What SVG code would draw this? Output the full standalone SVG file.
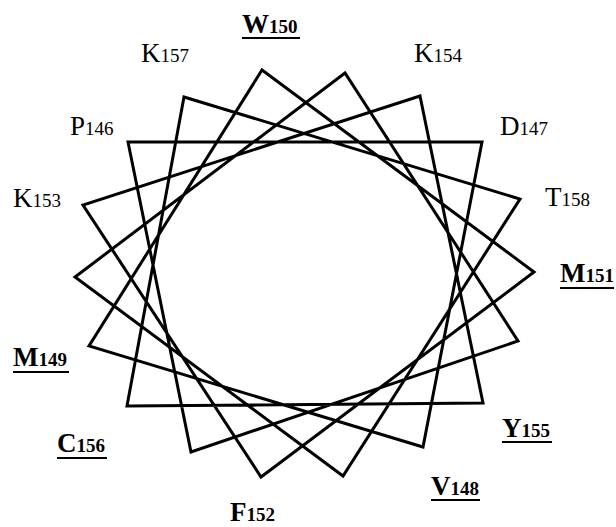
<svg xmlns="http://www.w3.org/2000/svg" width="616" height="527" viewBox="0 0 616 527">
<style>
text{font-family:"Liberation Serif","Times New Roman",serif;font-size:27px;fill:#000}
.b{font-weight:bold}
.s{font-size:19px}
.u{stroke:#000;stroke-width:2}
.wheel{fill:none;stroke:#000;stroke-width:3;stroke-linejoin:miter}
</style>
<rect width="616" height="527" fill="#fff"/>
<g id="connectors">
<polygon class="wheel" points="262,70 534,272 261,477 83,205 420,96 483,403 127,406 184,97 520,199 343,476 75,277 345,73 518,341 191,452 128,142 482,142 423,447 89,346"/>
</g>
<g id="W150"><text class="b" x="242" y="33">W<tspan class="s">150</tspan></text><line class="u" x1="242" y1="38" x2="300" y2="38"/></g>
<g id="K157"><text x="141" y="62">K<tspan class="s">157</tspan></text></g>
<g id="K154"><text x="414" y="62">K<tspan class="s">154</tspan></text></g>
<g id="P146"><text x="70" y="135">P<tspan class="s">146</tspan></text></g>
<g id="D147"><text x="500" y="135">D<tspan class="s">147</tspan></text></g>
<g id="K153"><text x="13" y="207">K<tspan class="s">153</tspan></text></g>
<g id="T158"><text x="545" y="206">T<tspan class="s">158</tspan></text></g>
<g id="M151"><text class="b" x="560" y="282">M<tspan class="s">151</tspan></text><line class="u" x1="560" y1="288" x2="614" y2="288"/></g>
<g id="M149"><text class="b" x="13" y="366">M<tspan class="s">149</tspan></text><line class="u" x1="13" y1="372" x2="69" y2="372"/></g>
<g id="Y155"><text class="b" x="502" y="437">Y<tspan class="s">155</tspan></text><line class="u" x1="502" y1="442" x2="552" y2="442"/></g>
<g id="C156"><text class="b" x="57" y="452">C<tspan class="s">156</tspan></text><line class="u" x1="57" y1="458" x2="107" y2="458"/></g>
<g id="V148"><text class="b" x="431" y="495">V<tspan class="s">148</tspan></text><line class="u" x1="431" y1="500" x2="480" y2="500"/></g>
<g id="F152"><text class="b" x="230" y="521">F<tspan class="s">152</tspan></text></g>
</svg>
